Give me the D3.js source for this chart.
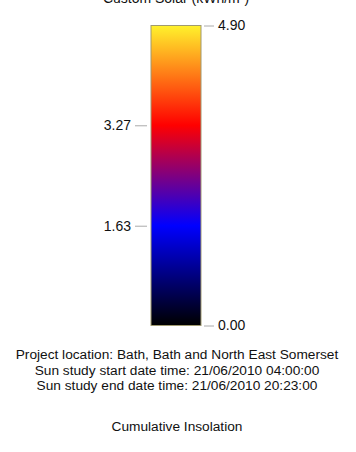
<script src="https://d3js.org/d3.v7.min.js"></script>

<style>
  body { margin: 0; background: #fff; }
  text { font-family: "Liberation Sans", Arial, sans-serif; fill: #111; }
</style>

<div id="container"></div>

<script>
var title = "Custom Solar (kWh/m\u00b2)";
var minValue = 0;
var maxValue = 4.90;
var rightTicks = [0.00, 4.90];
var leftTicks = [1.63, 3.27];
var stopValues = [0, 1.63, 3.27, 4.90];
var stopColors = ["#000000", "#0000ff", "#ff0000", "#fff22c"];
var infoLines = [
  "Project location: Bath, Bath and North East Somerset",
  "Sun study start date time: 21/06/2010 04:00:00",
  "Sun study end date time: 21/06/2010 20:23:00"
];
var caption = "Cumulative Insolation";

var width = 356, height = 452;

var svg = d3.select("#container").append("svg")
  .attr("width", width)
  .attr("height", height);

// legend title, mostly cut off at the top (as in the original)
svg.append("text")
  .attr("x", 176)
  .attr("y", 3)
  .attr("text-anchor", "middle")
  .style("font-size", "14px")
  .text(title);

var barX = 151, barW = 50;
var yscale = d3.scaleLinear()
  .domain([minValue, maxValue])
  .range([325.5, 25.5]);

// gradient
var grad = svg.append("defs").append("linearGradient")
  .attr("id", "grad")
  .attr("x1", 0).attr("y1", 1)
  .attr("x2", 0).attr("y2", 0);
grad.selectAll("stop")
  .data(stopValues)
  .enter()
  .append("stop")
    .attr("offset", function (d) { return (d - minValue) / (maxValue - minValue); })
    .attr("stop-color", function (d, i) { return stopColors[i]; });

svg.append("rect")
  .attr("x", barX)
  .attr("y", yscale(maxValue))
  .attr("width", barW)
  .attr("height", yscale(minValue) - yscale(maxValue))
  .style("fill", "url(#grad)")
  .style("stroke", "#a09a70")
  .style("stroke-width", 1);

// right axis
var right = svg.append("g")
  .attr("transform", "translate(" + (barX + barW + 3) + ",0)")
  .call(d3.axisRight(yscale).tickValues(rightTicks).tickFormat(d3.format(".2f")).tickSize(10).tickPadding(4));
right.select(".domain").remove();

// left axis
var left = svg.append("g")
  .attr("transform", "translate(" + (barX - 4) + ",0)")
  .call(d3.axisLeft(yscale).tickValues(leftTicks).tickFormat(d3.format(".2f")).tickSize(12).tickPadding(4));
left.select(".domain").remove();

svg.selectAll(".tick line").style("stroke", "#aaa");
svg.selectAll(".tick text")
  .style("font-size", "14px")
  .style("font-family", "Liberation Sans, Arial, sans-serif")
  .style("fill", "#111");

// footer
svg.append("g")
  .selectAll("text")
  .data(infoLines)
  .enter()
  .append("text")
    .attr("x", 177)
    .attr("y", function (d, i) { return 359 + i * 15.5; })
    .attr("text-anchor", "middle")
    .style("font-size", "13.7px")
    .text(function (d) { return d; });

svg.append("text")
  .attr("x", 177)
  .attr("y", 431)
  .attr("text-anchor", "middle")
  .style("font-size", "13.7px")
  .text(caption);
</script>
